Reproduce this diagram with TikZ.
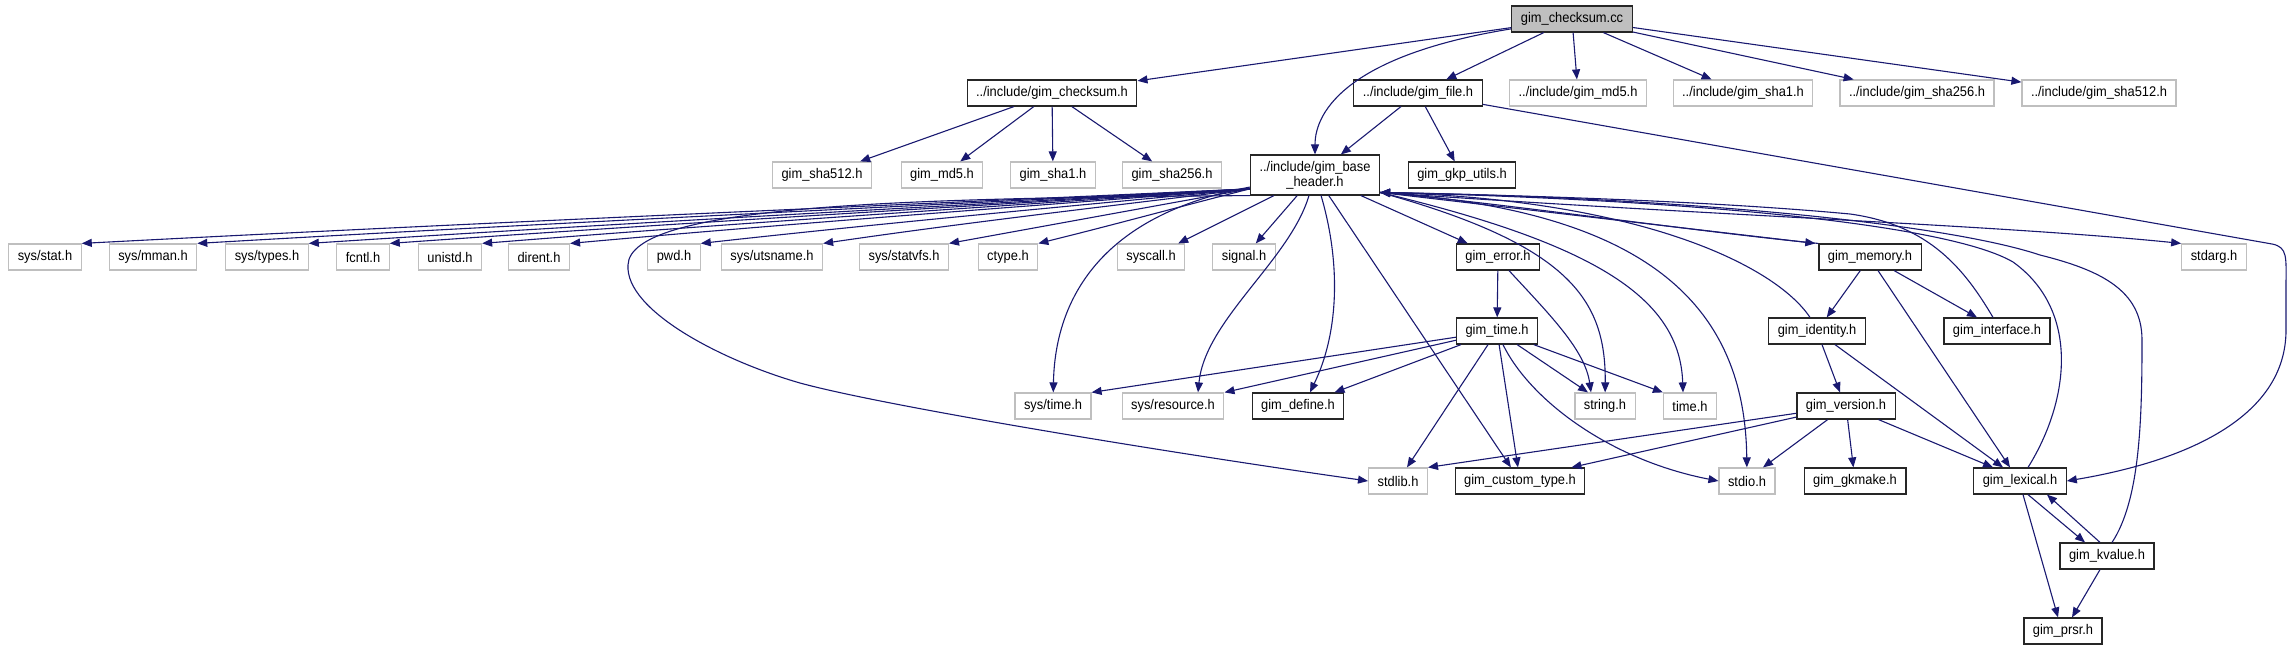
\documentclass[tikz,border=0pt]{standalone}
\usepackage{fontspec}
\setmainfont{Liberation Sans}[FakeStretch=0.92]
\usetikzlibrary{arrows.meta}
\definecolor{navyedge}{HTML}{191970}
\definecolor{graybox}{HTML}{BFBFBF}

\begin{document}
\begin{tikzpicture}[x=1pt, y=-1pt,
    hdr/.style={font=\fontsize{14pt}{15pt}\selectfont, draw=black!85, line width=1.2pt,
                minimum height=26pt, inner xsep=9pt, inner ysep=0pt, align=center},
    ext/.style={hdr, draw=graybox},
    src/.style={hdr, fill=graybox},
    inc/.style={-{Triangle[length=10pt,width=8pt]}, navyedge, line width=1.1pt},
]
\useasboundingbox (0,0) rectangle (2291,649);

% Source file
\node[src] (cc) at (1572,19) {gim\_checksum.cc};

% First level includes
\node[hdr] (chk)     at (1052,93) {../include/gim\_checksum.h};
\node[hdr] (gfile)   at (1418,93) {../include/gim\_file.h};
\node[ext] (md5i)    at (1578,93) {../include/gim\_md5.h};
\node[ext] (sha1i)   at (1743,93) {../include/gim\_sha1.h};
\node[ext] (sha256i) at (1917,93) {../include/gim\_sha256.h};
\node[ext] (sha512i) at (2099,93) {../include/gim\_sha512.h};

% Second level
\node[ext] (sha512) at (822,175)  {gim\_sha512.h};
\node[ext] (md5)    at (942,175)  {gim\_md5.h};
\node[ext] (sha1)   at (1053,175) {gim\_sha1.h};
\node[ext] (sha256) at (1172,175) {gim\_sha256.h};
\node[hdr, inner ysep=6pt] (base) at (1315,175) {../include/gim\_base\\\_header.h};
\node[hdr] (gkp)    at (1462,175) {gim\_gkp\_utils.h};

% System headers and third level
\node[ext] (stat)    at (45,257)   {sys/stat.h};
\node[ext] (mman)    at (153,257)  {sys/mman.h};
\node[ext] (types)   at (267,257)  {sys/types.h};
\node[ext] (fcntl)   at (363,257)  {fcntl.h};
\node[ext] (unistd)  at (450,257)  {unistd.h};
\node[ext] (dirent)  at (539,257)  {dirent.h};
\node[ext] (pwd)     at (674,257)  {pwd.h};
\node[ext] (utsname) at (772,257)  {sys/utsname.h};
\node[ext] (statvfs) at (904,257)  {sys/statvfs.h};
\node[ext] (ctype)   at (1008,257) {ctype.h};
\node[ext] (syscall) at (1151,257) {syscall.h};
\node[ext] (signal)  at (1244,257) {signal.h};
\node[hdr] (err)     at (1498,257) {gim\_error.h};
\node[hdr] (mem)     at (1870,257) {gim\_memory.h};
\node[ext] (stdarg)  at (2214,257) {stdarg.h};

% Fourth level
\node[hdr] (gtime) at (1497,331) {gim\_time.h};
\node[hdr] (ident) at (1817,331) {gim\_identity.h};
\node[hdr] (iface) at (1997,331) {gim\_interface.h};

% Fifth level
\node[ext] (systime) at (1053,406) {sys/time.h};
\node[ext] (sysres)  at (1173,406) {sys/resource.h};
\node[hdr] (define)  at (1298,406) {gim\_define.h};
\node[ext] (string)  at (1605,406) {string.h};
\node[ext] (timeh)   at (1690,406) {time.h};
\node[hdr] (version) at (1846,406) {gim\_version.h};

% Bottom rows
\node[ext] (stdlib)  at (1398,481) {stdlib.h};
\node[hdr] (ctyp)    at (1520,481) {gim\_custom\_type.h};
\node[ext] (stdio)   at (1747,481) {stdio.h};
\node[hdr] (gkmake)  at (1855,481) {gim\_gkmake.h};
\node[hdr] (lexical) at (2020,481) {gim\_lexical.h};
\node[hdr] (kvalue)  at (2107,556) {gim\_kvalue.h};
\node[hdr] (prsr)    at (2063,631) {gim\_prsr.h};

% Edges from the source file
\draw[inc] (cc) -- (chk);
\draw[inc] (cc) .. controls (1350,55) and (1315,110) .. (base);
\draw[inc] (cc) -- (gfile);
\draw[inc] (cc) -- (md5i);
\draw[inc] (cc) -- (sha1i);
\draw[inc] (cc) -- (sha256i);
\draw[inc] (cc) -- (sha512i);

% gim_checksum.h
\draw[inc] (chk) -- (sha512);
\draw[inc] (chk) -- (md5);
\draw[inc] (chk) -- (sha1);
\draw[inc] (chk) -- (sha256);

% gim_file.h
\draw[inc] (gfile) -- (base);
\draw[inc] (gfile) -- (gkp);
\draw[inc] (gfile) -- (2272,244) .. controls (2288,247) and (2286,258) .. (2286,285)
    -- (2286,330) .. controls (2286,420) and (2180,462) .. (lexical.east);

% gim_base_header.h, system headers on the left
\draw[inc] (base.-168) .. controls (899,205) and (491,222) .. (stat.north east);
\draw[inc] (base.-168) .. controls (933,205) and (566,222) .. (mman.north east);
\draw[inc] (base.-168) .. controls (967,205) and (638,222) .. (types.north east);
\draw[inc] (base.-168) .. controls (991,205) and (692,222) .. (fcntl.north east);
\draw[inc] (base.-168) .. controls (1018,205) and (751,222) .. (unistd.north east);
\draw[inc] (base.-168) .. controls (1045,205) and (808,222) .. (dirent.north east);
\draw[inc] (base.-168) .. controls (1084,205) and (893,222) .. (pwd.north east);
\draw[inc] (base.-168) .. controls (1119,205) and (969,222) .. (utsname.north east);
\draw[inc] (base.-168) .. controls (1160,205) and (1056,224) .. (statvfs.north east);
\draw[inc] (base.-168) .. controls (1186,205) and (1113,225) .. (ctype.north east);
\draw[inc] (base.south west) .. controls (900,198) and (630,205) .. (628,265)
    .. controls (625,310) and (720,360) .. (800,383)
    .. controls (880,405) and (1150,450) .. (stdlib.west);

% gim_base_header.h, below
\draw[inc] (base) -- (syscall);
\draw[inc] (base) -- (signal);
\draw[inc] (base) .. controls (1100,215) and (1055,300) .. (systime);
\draw[inc] (base) .. controls (1290,260) and (1205,320) .. ([xshift=25pt]sysres.north);
\draw[inc] (base) .. controls (1340,260) and (1340,330) .. ([xshift=12pt]define.north);
\draw[inc] (base) -- (ctyp);
\draw[inc] (base) -- (err);

% gim_base_header.h, to the right
\draw[inc] (base.-15) .. controls (1570,245) and (1606,300) .. (string);
\draw[inc] (base.-15) .. controls (1600,245) and (1680,300) .. ([xshift=-7pt]timeh.north);
\draw[inc] (base.-15) .. controls (1640,210) and (1745,300) .. (stdio);
\draw[inc] (base.-15) .. controls (1700,215) and (2000,225) .. (stdarg.north west);
\draw[inc] (base.-15) -- ([xshift=-3pt]mem.north west);

% back edges into gim_base_header.h
\draw[inc] (mem.north west) .. controls (1700,232) and (1500,203) .. (base.-15);
\draw[inc] ([xshift=-7pt]ident.north) .. controls (1775,265) and (1640,200) .. (base.-15);
\draw[inc] ([xshift=-4pt]iface.north) .. controls (1965,270) and (1930,225) .. (1850,214)
    .. controls (1700,200) and (1500,195) .. (base.-15);
\draw[inc] ([xshift=8pt]lexical.north) .. controls (2070,400) and (2080,310) .. (2013,262)
    .. controls (1950,225) and (1700,200) .. (base.-15);
\draw[inc] ([xshift=5pt]kvalue.north) .. controls (2140,500) and (2142,420) .. (2142,340)
    .. controls (2142,290) and (2100,270) .. (2040,255)
    .. controls (1950,225) and (1700,198) .. (base.-15);

% gim_error.h and gim_time.h
\draw[inc] (err) -- (gtime);
\draw[inc] ([xshift=11pt]err.south) .. controls (1550,315) and (1585,350) .. ([xshift=-14pt]string.north);
\draw[inc] (gtime) -- (systime.north east);
\draw[inc] (gtime) -- (sysres.north east);
\draw[inc] (gtime) -- ([xshift=-10pt]define.north east);
\draw[inc] (gtime) -- ([xshift=9pt]stdlib.north);
\draw[inc] (gtime) -- (ctyp);
\draw[inc] (gtime) -- ([xshift=-17pt]string.north);
\draw[inc] (gtime) -- (timeh.north west);
\draw[inc] ([xshift=6pt]gtime.south) .. controls (1530,400) and (1610,460) .. (stdio.west);

% gim_memory.h and gim_identity.h
\draw[inc] (mem) -- (ident);
\draw[inc] (mem) -- ([xshift=-20pt]iface.north);
\draw[inc] ([xshift=8pt]mem.south) -- ([xshift=-10pt]lexical.north);
\draw[inc] ([xshift=5pt]ident.south) -- ([xshift=-6pt]version.north);
\draw[inc] ([xshift=18pt]ident.south) -- ([xshift=-17pt]lexical.north);

% gim_version.h
\draw[inc] (version) -- (stdlib.north east);
\draw[inc] (version) -- ([xshift=-14pt]ctyp.north east);
\draw[inc] (version) -- ([xshift=16pt]stdio.north);
\draw[inc] (version) -- (gkmake);
\draw[inc] (version) -- ([xshift=-27pt]lexical.north);

% gim_lexical.h and gim_kvalue.h
\draw[inc] ([xshift=8pt]lexical.south) -- ([xshift=-22pt]kvalue.north);
\draw[inc] ([xshift=-7pt]kvalue.north) -- ([xshift=27pt]lexical.south);
\draw[inc] ([xshift=3pt]lexical.south) -- ([xshift=-5pt]prsr.north);
\draw[inc] ([xshift=-7pt]kvalue.south) -- ([xshift=9pt]prsr.north);
\end{tikzpicture}
\end{document}
